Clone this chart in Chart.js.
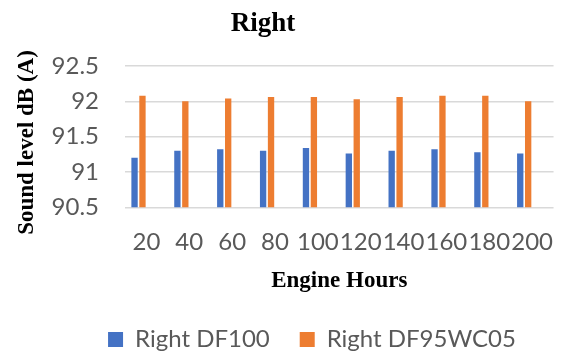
<!DOCTYPE html>
<html>
<head>
<meta charset="utf-8">
<script src="https://cdn.jsdelivr.net/npm/chart.js@4"></script>
<style>
  html, body { margin: 0; padding: 0; background: #ffffff; }
  #wrap { width: 574px; height: 355px; position: relative; }
</style>
</head>
<body>
<div id="wrap"><canvas id="chart" width="574" height="355"></canvas></div>
<script>
// Engine hours (x categories)
const engineHours = ['20', '40', '60', '80', '100', '120', '140', '160', '180', '200'];
// Sound level, dB(A), right side
const rightDF100 = [91.20, 91.30, 91.32, 91.30, 91.34, 91.26, 91.30, 91.32, 91.28, 91.26];
const rightDF95WC05 = [92.08, 92.00, 92.04, 92.06, 92.06, 92.03, 92.06, 92.08, 92.08, 92.00];
// Value axis
const yMin = 90.5, yMax = 92.5, yStep = 0.5;

const chartTitle = 'Right';
const yTitle = 'Sound level dB (A)';
const xTitle = 'Engine Hours';

const tickFont = { family: 'Lato', size: 24 };
const legendFont = { family: 'Lato', size: 24 };
const titleFontFamily = '"Liberation Serif", "Times New Roman", serif';

// Chart heading and rotated value-axis title
const titlesPlugin = {
  id: 'titles',
  afterDraw(chart) {
    const ctx = chart.ctx;
    ctx.save();
    ctx.fillStyle = '#000000';
    ctx.textAlign = 'center';
    ctx.textBaseline = 'middle';
    ctx.font = 'bold 27px ' + titleFontFamily;
    ctx.fillText(chartTitle, 263, 24);
    ctx.translate(27, 142.5);
    ctx.rotate(-Math.PI / 2);
    ctx.font = 'bold 23px ' + titleFontFamily;
    ctx.fillText(yTitle, 0, 0);
    ctx.restore();
  }
};

new Chart(document.getElementById('chart'), {
  type: 'bar',
  data: {
    labels: engineHours,
    datasets: [
      { label: 'Right DF100', data: rightDF100, backgroundColor: '#4472C4' },
      { label: 'Right DF95WC05', data: rightDF95WC05, backgroundColor: '#ED7D31' },
      // unused cluster slots, keeps the bar pair on the left of each category
      { label: '', data: [], backgroundColor: 'rgba(0,0,0,0)' },
      { label: '', data: [], backgroundColor: 'rgba(0,0,0,0)' }
    ]
  },
  options: {
    responsive: false,
    animation: false,
    devicePixelRatio: 1,
    layout: { padding: { top: 66, left: 50, right: 0, bottom: -6.5 } },
    datasets: {
      bar: { categoryPercentage: 0.739, barPercentage: 0.8 }
    },
    scales: {
      x: {
        grid: { display: false, drawTicks: false },
        border: { display: false },
        ticks: {
          font: tickFont, color: '#595959', padding: 21,
          autoSkip: false, maxRotation: 0, minRotation: 0
        },
        title: {
          display: true, text: xTitle, color: '#000000',
          font: { family: titleFontFamily, size: 23, weight: 'bold' },
          padding: { top: 0, bottom: 2.5 }
        },
        afterFit(scale) { scale.height = 90.2; }
      },
      y: {
        min: yMin, max: yMax,
        grid: { color: '#d9d9d9', lineWidth: 1.5, drawTicks: false },
        border: { display: false },
        ticks: {
          stepSize: yStep, font: tickFont, color: '#595959', padding: 26,
          callback: v => String(Math.round(v * 10) / 10)
        },
        afterFit(scale) { scale.width = 75; }
      }
    },
    plugins: {
      title: { display: false },
      tooltip: { enabled: false },
      legend: {
        position: 'bottom',
        labels: {
          font: legendFont, color: '#595959',
          boxWidth: 15, boxHeight: 15, padding: 30,
          filter: item => item.text !== ''
        }
      }
    }
  },
  plugins: [titlesPlugin]
});
</script>
</body>
</html>
